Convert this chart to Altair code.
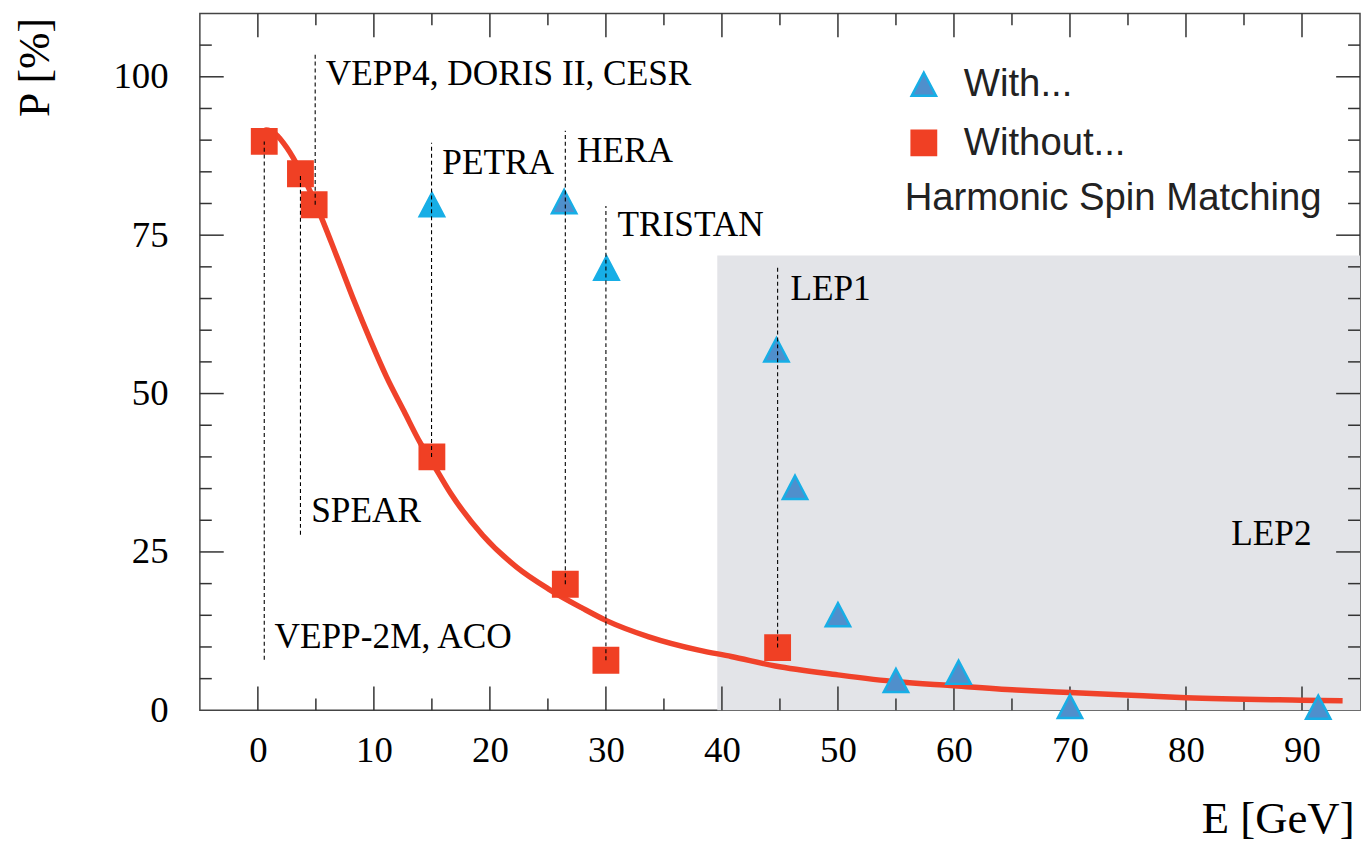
import altair as alt
import pandas as pd

# ---------------- data ----------------
# points "With... Harmonic Spin Matching" (blue triangles)
with_E = [26.4, 44.7, 46.3, 50.0, 55.0, 60.4, 70.0, 91.4]
with_P = [80.3, 56.9, 35.2, 15.1, 4.7, 6.0, 0.6, 0.5]
# the two bright (cyan) triangles: PETRA, TRISTAN
bright_E = [15.0, 30.05]
bright_P = [79.8, 69.8]
# points "Without..." (red squares)
without_E = [0.55, 3.67, 4.85, 15.0, 26.5, 30.0, 44.8]
without_P = [89.8, 84.7, 79.8, 40.0, 19.9, 7.9, 9.9]

# red theoretical curve
curve_E = [0.2, 0.7, 1.5, 2.5, 3.7, 4.9, 6.9, 8.3, 9.7, 11.1, 12.6, 14.0, 15.0,
           16.6, 19.4, 22.3, 25.1, 28.0, 30.0, 33.7, 38.0, 40.8, 44.6, 50.0,
           55.1, 59.7, 65.4, 70.0, 76.3, 80.0, 90.0, 93.5]
curve_P = [90.6, 91.6, 91.0, 88.8, 85.0, 80.3, 71.2, 64.6, 58.4, 52.6, 47.2, 42.2, 39.2,
           34.3, 27.6, 22.6, 19.1, 16.1, 14.2, 11.6, 9.5, 8.5, 7.0, 5.6,
           4.5, 3.9, 3.2, 2.8, 2.3, 2.0, 1.6, 1.5]

# dashed marker lines for the machines
vline_E = [0.55, 3.67, 4.94, 14.97, 26.5, 30.0, 44.8]
vline_lo = [8.0, 27.7, 79.8, 40.0, 19.9, 7.9, 9.9]
vline_hi = [89.8, 84.7, 103.6, 89.6, 91.5, 79.6, 69.9]

# machine labels
labels = ["VEPP4, DORIS II, CESR", "PETRA", "HERA", "TRISTAN", "LEP1", "SPEAR",
          "VEPP-2M, ACO", "LEP2"]
label_E = [5.85, 15.9, 27.5, 31.0, 45.9, 4.6, 1.43, 83.9]
label_P = [98.7, 84.7, 86.6, 74.9, 64.7, 29.7, 9.8, 26.1]

# LEP2 shaded region
lep2_E = [39.6, 95.0]
lep2_P = [0.0, 71.8]

# axis ticks
x_major = [0, 10, 20, 30, 40, 50, 60, 70, 80, 90]
x_minor = [5, 15, 25, 35, 45, 55, 65, 75, 85]
y_major = [25, 50, 75, 100]
y_minor = [5, 10, 15, 20, 30, 35, 40, 45, 55, 60, 65, 70, 80, 85, 90, 95, 105]
y_labels = [0, 25, 50, 75, 100]

series_names = ["With...", "Without..."]

# ---------------- styling ----------------
W, H = 1167, 701
SERIF = "Liberation Serif"
SANS = "Liberation Sans"
TICK_C = "#333333"
RED = "#f04024"
BLUE = "#4f8fcc"
CYAN = "#17aee6"
TRI = "M0,-0.95L1,0.95L-1,0.95Z"

xs = alt.Scale(domain=[-5, 95], nice=False, zero=False)
ys = alt.Scale(domain=[0, 110], nice=False, zero=False)

x_axis = alt.Axis(title="E [GeV]", values=x_major, tickSize=0, domain=False, grid=False,
                  labelFont=SERIF, labelFontSize=37, labelColor="black", labelPadding=22,
                  labelFlush=False, labelOverlap=False, format="d",
                  titleFont=SERIF, titleFontSize=45, titleFontWeight="normal",
                  titleColor="black", titleX=1161, titleY=123, titleAlign="right",
                  titleBaseline="alphabetic", titleAngle=0)
y_axis = alt.Axis(title="P [%]", values=y_labels, tickSize=0, domain=False, grid=False,
                  labelFont=SERIF, labelFontSize=37, labelColor="black", labelPadding=32,
                  labelOverlap=False, format="d",
                  titleFont=SERIF, titleFontSize=44, titleFontWeight="normal",
                  titleColor="black", titleX=-152, titleY=4, titleAlign="right",
                  titleBaseline="alphabetic", titleAngle=270)


def X(f="E"):
    return alt.X(f"{f}:Q", scale=xs, axis=x_axis)


def Y(f="P"):
    return alt.Y(f"{f}:Q", scale=ys, axis=y_axis)


# ---------------- layers ----------------
rect = alt.Chart(pd.DataFrame({"E": [lep2_E[0]], "E2": [lep2_E[1]],
                               "P": [lep2_P[0]], "P2": [lep2_P[1]]})).mark_rect(
    color="#e3e4e8").encode(x=X(), x2="E2:Q", y=Y(), y2="P2:Q")

dfxM = pd.DataFrame({"E": x_major})
dfxm = pd.DataFrame({"E": x_minor})
dfyM = pd.DataFrame({"P": y_major})
dfym = pd.DataFrame({"P": y_minor})

rule = dict(color=TICK_C, strokeWidth=1.5)
ticks = [
    alt.Chart(dfxM).mark_rule(**rule).encode(x=X(), y=alt.value(H), y2=alt.value(H - 24)),
    alt.Chart(dfxm).mark_rule(**rule).encode(x=X(), y=alt.value(H), y2=alt.value(H - 12)),
    alt.Chart(dfxM).mark_rule(**rule).encode(x=X(), y=alt.value(0), y2=alt.value(24)),
    alt.Chart(dfxm).mark_rule(**rule).encode(x=X(), y=alt.value(0), y2=alt.value(12)),
    alt.Chart(dfyM).mark_rule(**rule).encode(y=Y(), x=alt.value(0), x2=alt.value(24)),
    alt.Chart(dfym).mark_rule(**rule).encode(y=Y(), x=alt.value(0), x2=alt.value(12)),
    alt.Chart(dfyM).mark_rule(**rule).encode(y=Y(), x=alt.value(W), x2=alt.value(W - 24)),
    alt.Chart(dfym).mark_rule(**rule).encode(y=Y(), x=alt.value(W), x2=alt.value(W - 12)),
]

curve = alt.Chart(pd.DataFrame({"E": curve_E, "P": curve_P})).mark_line(
    color="#f0422a", strokeWidth=5.5, interpolate="monotone").encode(x=X(), y=Y())

pts = pd.DataFrame({
    "E": with_E + without_E,
    "P": with_P + without_P,
    "series": [series_names[0]] * len(with_E) + [series_names[1]] * len(without_E),
})

legend = alt.Legend(title="Harmonic Spin Matching", orient="none", legendX=709, legendY=52,
                    titleOrient="bottom", titleAnchor="start", titleFont=SANS,
                    titleFontSize=38.5, titleFontWeight="normal", titleColor="#222222",
                    titlePadding=18, titleLimit=900, labelLimit=600,
                    labelFont=SANS, labelFontSize=38.5, labelColor="#222222",
                    labelOffset=21, symbolSize=600, symbolStrokeWidth=2.5, rowPadding=20,
                    padding=0, symbolOpacity=1)

points = alt.Chart(pts).mark_point(size=600, strokeWidth=2.5, opacity=1, fillOpacity=1).encode(
    x=X(), y=Y(),
    shape=alt.Shape("series:N", scale=alt.Scale(domain=series_names, range=[TRI, "square"]),
                    legend=legend),
    fill=alt.Fill("series:N", scale=alt.Scale(domain=series_names, range=[BLUE, RED]),
                  legend=legend),
    stroke=alt.Stroke("series:N", scale=alt.Scale(domain=series_names, range=[CYAN, RED]),
                      legend=legend),
)

bright = alt.Chart(pd.DataFrame({"E": bright_E, "P": bright_P})).mark_point(
    shape=TRI, size=600, fill=CYAN, stroke=CYAN, strokeWidth=2.5, opacity=1,
    fillOpacity=1).encode(x=X(), y=Y())

vlines = alt.Chart(pd.DataFrame({"E": vline_E, "P": vline_lo, "P2": vline_hi})).mark_rule(
    color="black", strokeWidth=1.1, strokeDash=[4, 3]).encode(x=X(), y=Y(), y2="P2:Q")

texts = alt.Chart(pd.DataFrame({"E": label_E, "P": label_P, "label": labels})).mark_text(
    align="left", baseline="alphabetic", font=SERIF, fontSize=35.5, color="black").encode(
    x=X(), y=Y(), text="label:N")

chart = alt.layer(rect, *ticks, curve, points, bright, vlines, texts).properties(
    width=W, height=H,
    autosize=alt.AutoSizeParams(type="none"),
    padding={"left": 193, "top": 3, "right": 1, "bottom": 132},
    background="white",
).configure_view(stroke="#444444", strokeWidth=1.5)

chart.save("out.html", embed_options={"renderer": "svg", "actions": False})
